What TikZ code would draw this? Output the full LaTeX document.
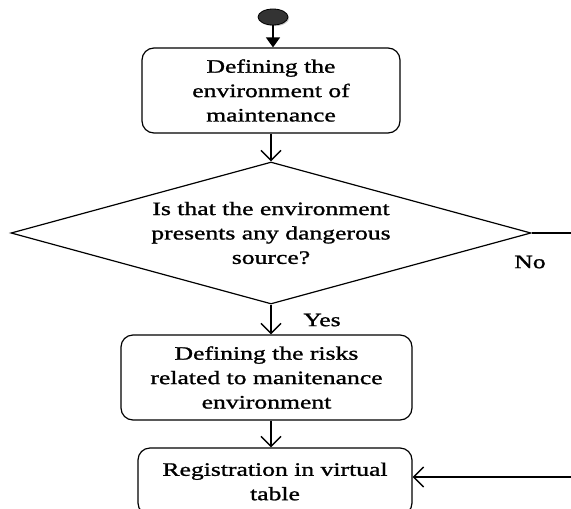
\documentclass[tikz,border=0pt]{standalone}
\usepackage{fontspec}
\setmainfont{Liberation Serif}[FakeStretch=1.35, FakeBold=1.2]
\usetikzlibrary{shapes.geometric, arrows.meta, shadows, positioning}
\tikzset{
  stepbox/.style={draw, rounded corners=6pt, align=center, line width=0.6pt, inner sep=2pt},
  decision/.style={draw, diamond, aspect=3.6, align=center, line width=0.6pt, inner sep=0pt, minimum width=260pt, minimum height=71pt},
  flow/.style={line width=0.75pt, -{Straight Barb[length=5pt, width=10pt, line width=0.75pt]}},
  startflow/.style={line width=0.75pt, -{Triangle[length=5pt, width=7pt]}}
}

\begin{document}
\begin{tikzpicture}[x=0.5pt, y=-0.5pt, font=\fontsize{9.5}{12.2}\selectfont]
  \useasboundingbox (0,0) rectangle (571,508);
  \clip (0,0) rectangle (571,508);

  \node[ellipse, fill=black!80, draw=black, minimum width=15pt, minimum height=8pt, inner sep=0pt,
        drop shadow={shadow xshift=0.6pt, shadow yshift=-0.6pt, fill=black!40}] (start) at (273, 17) {};
  \node[stepbox, minimum width=129pt, minimum height=42.5pt] (define) at (271, 90.5) {Defining the\\environment of\\maintenance};
  \node[decision] (dangerous) at (271, 233) {Is that the environment\\presents any dangerous\\source?};
  \node[stepbox, minimum width=145.5pt, minimum height=42.5pt] (risks) at (266.5, 377.5) {Defining the risks\\related to manitenance\\environment};
  \node[stepbox, minimum width=137pt, minimum height=33.5pt] (register) at (275, 481.5) {Registration in virtual\\table};

  \node (no) at (530, 262) {No};
  \node (yes) at (322, 320) {Yes};

  \coordinate (noend) at (571, 233);
  \coordinate (backin) at (571, 477);

  \draw[startflow] (start) -- (start |- define.north);
  \draw[flow] (define) -- (dangerous);
  \draw[flow] (dangerous) -- (dangerous |- risks.north);
  \draw[flow] (risks.south -| dangerous) -- (dangerous |- register.north);
  \draw[line width=0.6pt] (dangerous.east) -- (noend);
  \draw[flow] (backin) -- (register.east |- backin);
\end{tikzpicture}
\end{document}
